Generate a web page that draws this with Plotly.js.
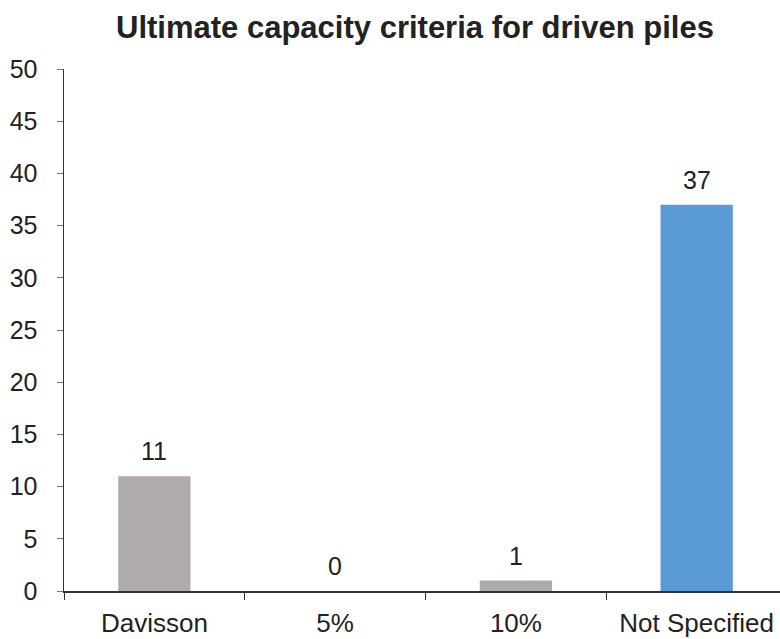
<!DOCTYPE html>
<html><head><meta charset="utf-8">
<script src="https://cdn.plot.ly/plotly-3.0.1.min.js"></script>
<style>html,body{margin:0;padding:0;background:#fff}#chart{width:780px;height:639px}</style>
</head><body><div id="chart"></div>
<script>
const categories = ["Davisson", "5%", "10%", "Not Specified"];
const values = [11, 0, 1, 37];
const barColors = ["#AFABAA", "#AFABAA", "#AFABAA", "#5B9BD5"];
const yTicks = [0, 5, 10, 15, 20, 25, 30, 35, 40, 45, 50];

const font = "Liberation Sans, Arial, sans-serif";
const trace = {
  type: "bar", x: categories, y: values,
  marker: {color: barColors}, width: 0.4, hoverinfo: "none"
};
const annotations = categories.map((c, i) => ({
  x: c, y: values[i], xref: "x", yref: "y", text: String(values[i]),
  showarrow: false, yanchor: "bottom", yshift: 9,
  font: {family: font, size: 25, color: "#222"}
}));
const layout = {
  width: 780, height: 639,
  margin: {l: 64, r: 0, t: 69, b: 48},
  paper_bgcolor: "#fff", plot_bgcolor: "#fff",
  title: {text: "<b>Ultimate capacity criteria for driven piles</b>", x: 0.532, xanchor: "center", y: 0.958, yanchor: "middle",
          font: {family: font, size: 31, color: "#222"}},
  xaxis: {type: "category", range: [-0.5, 3.461], tickson: "boundaries", ticks: "outside", ticklen: 7,
          tickcolor: "#333", showline: true, linecolor: "#333", linewidth: 1.5, showgrid: false, zeroline: false,
          ticklabelstandoff: 8, tickfont: {family: font, size: 26, color: "#222"}},
  yaxis: {range: [0, 50], tickvals: yTicks, ticks: "outside", ticklen: 6, tickcolor: "#777",
          showline: true, linecolor: "#333", linewidth: 1.5, showgrid: false, zeroline: false,
          ticklabelstandoff: 14, tickfont: {family: font, size: 25, color: "#222"}},
  annotations: annotations, showlegend: false
};
Plotly.newPlot("chart", [trace], layout, {staticPlot: true});
</script></body></html>
